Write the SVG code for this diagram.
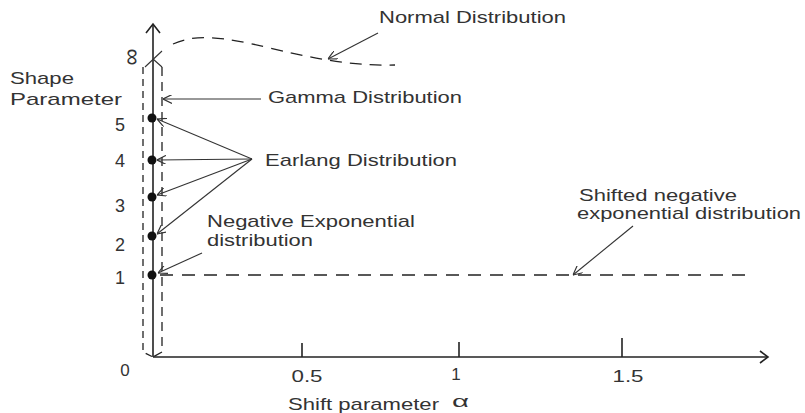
<svg xmlns="http://www.w3.org/2000/svg" width="805" height="413" viewBox="0 0 805 413">
<style>
text{font-family:"Liberation Sans",Arial,sans-serif;font-size:17px;fill:#333}
.ax{stroke:#222;stroke-width:1.6;fill:none}
.ln{stroke:#333;stroke-width:1.1;fill:none}
.dsh{stroke:#222;stroke-width:1.3;fill:none}
</style>
<defs>
<marker id="oa" viewBox="0 0 10 10" refX="10" refY="5" markerWidth="9" markerHeight="9" markerUnits="userSpaceOnUse" orient="auto">
<path d="M0,0 L10,5 L0,10" fill="none" stroke="#333" stroke-width="1.3"/>
</marker>
</defs>
<g id="axes">
<line class="ax" x1="153" y1="357" x2="153" y2="24"/>
<path class="ax" d="M146,33 L153,24 L160,33"/>
<line class="ax" x1="153" y1="357" x2="768" y2="357"/>
<path class="ax" d="M760,351 L768,357 L760,363"/>
<line class="ax" x1="302" y1="343" x2="302" y2="357"/>
<line class="ax" x1="459" y1="342" x2="459" y2="357"/>
<line class="ax" x1="622" y1="338" x2="622" y2="357"/>
<path class="ln" d="M145,67 L162,51 M153,59 L162,67"/>
<text x="133" y="57" text-anchor="middle" dominant-baseline="central" transform="rotate(90 133 57)" style="font-size:24px">∞</text>
<text x="10" y="84" textLength="64" lengthAdjust="spacingAndGlyphs">Shape</text>
<text x="10" y="105" textLength="112" lengthAdjust="spacingAndGlyphs">Parameter</text>
<text x="120" y="131" text-anchor="middle" style="font-size:18px">5</text>
<text x="120" y="167" text-anchor="middle" style="font-size:18px">4</text>
<text x="120" y="212" text-anchor="middle" style="font-size:18px">3</text>
<text x="120" y="251" text-anchor="middle" style="font-size:18px">2</text>
<text x="120" y="284" text-anchor="middle" style="font-size:18px">1</text>
<text x="125" y="376" text-anchor="middle">0</text>
<text x="307" y="382" text-anchor="middle" textLength="31" lengthAdjust="spacingAndGlyphs">0.5</text>
<text x="456" y="380" text-anchor="middle">1</text>
<text x="628" y="382" text-anchor="middle" textLength="31" lengthAdjust="spacingAndGlyphs">1.5</text>
<text x="288" y="410" textLength="151" lengthAdjust="spacingAndGlyphs">Shift parameter</text>
<text x="452" y="407" textLength="17" lengthAdjust="spacingAndGlyphs">α</text>
</g>
<g id="gamma-bounds">
<path class="dsh" d="M143,67 L143,352 L153,357" stroke-dasharray="7 5"/>
<path class="dsh" d="M162,67 L162,352 L153,357" stroke-dasharray="9 6"/>
</g>
<g id="points">
<circle cx="152" cy="118" r="4.5" fill="#111"/>
<circle cx="152" cy="160" r="4.5" fill="#111"/>
<circle cx="152" cy="197" r="4.5" fill="#111"/>
<circle cx="152" cy="236" r="4.5" fill="#111"/>
<circle cx="152" cy="275" r="4.5" fill="#111"/>
</g>
<g id="normal-curve">
<path class="dsh" d="M173,44 C195,34 220,36 270,48 S355,66 395,65" stroke-dasharray="12 8"/>
</g>
<g id="shifted-line">
<line class="dsh" x1="160" y1="275" x2="753" y2="275" stroke-dasharray="13 9"/>
</g>
<g id="node-normal"><text x="379" y="23" textLength="187" lengthAdjust="spacingAndGlyphs">Normal Distribution</text></g>
<g id="node-gamma"><text x="268" y="103" textLength="194" lengthAdjust="spacingAndGlyphs">Gamma Distribution</text></g>
<g id="node-earlang"><text x="265" y="166" textLength="192" lengthAdjust="spacingAndGlyphs">Earlang Distribution</text></g>
<g id="node-negexp">
<text x="207" y="227" textLength="208" lengthAdjust="spacingAndGlyphs">Negative Exponential</text>
<text x="207" y="246" textLength="106" lengthAdjust="spacingAndGlyphs">distribution</text>
</g>
<g id="node-shifted">
<text x="579" y="201" textLength="158" lengthAdjust="spacingAndGlyphs">Shifted negative</text>
<text x="577" y="219" textLength="224" lengthAdjust="spacingAndGlyphs">exponential distribution</text>
</g>
<g id="connectors">
<line class="ln" x1="378" y1="33" x2="328" y2="59" marker-end="url(#oa)"/>
<line class="ln" x1="261" y1="99" x2="163" y2="99" marker-end="url(#oa)"/>
<line class="ln" x1="252" y1="159" x2="157" y2="119" marker-end="url(#oa)"/>
<line class="ln" x1="252" y1="159" x2="157" y2="160" marker-end="url(#oa)"/>
<line class="ln" x1="252" y1="159" x2="157" y2="195" marker-end="url(#oa)"/>
<line class="ln" x1="252" y1="159" x2="157" y2="234" marker-end="url(#oa)"/>
<line class="ln" x1="202" y1="253" x2="158" y2="273" marker-end="url(#oa)"/>
<line class="ln" x1="633" y1="226" x2="573" y2="275" marker-end="url(#oa)"/>
</g>
</svg>
